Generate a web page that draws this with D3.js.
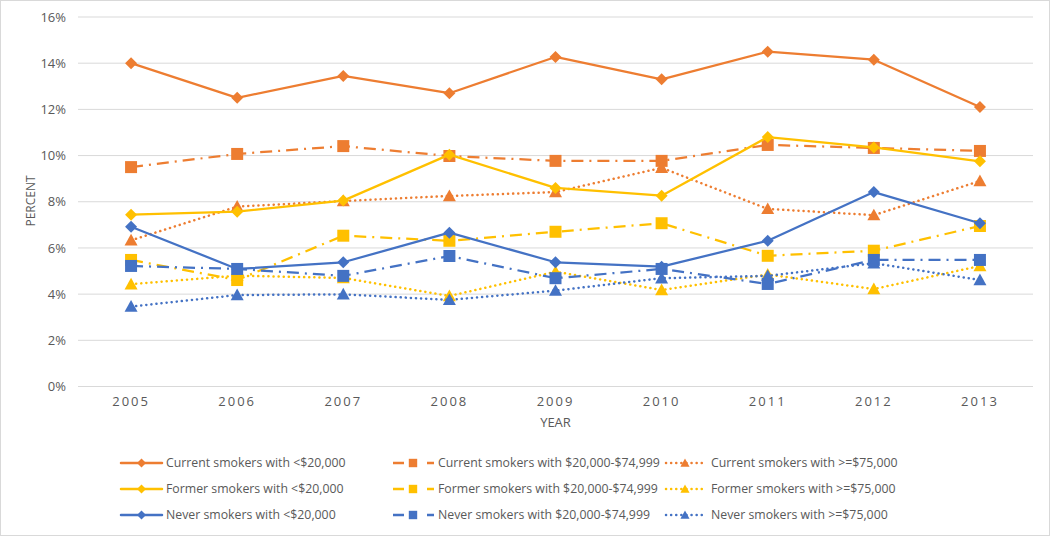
<!DOCTYPE html>
<html><head><meta charset="utf-8">
<script src="https://cdn.jsdelivr.net/npm/d3@7"></script>
<style>
body{margin:0;background:#fff;}
text{font-family:"Open Sans","Liberation Sans",Arial,sans-serif;fill:#595959;}
</style></head>
<body><svg id="c" width="1050" height="536"></svg>
<script>
const years = ["2005","2006","2007","2008","2009","2010","2011","2012","2013"];
const yTicks = [0,2,4,6,8,10,12,14,16];
const currentLow  = [14.0,12.5,13.45,12.7,14.27,13.3,14.5,14.15,12.1];
const currentMid  = [9.5,10.07,10.41,9.98,9.77,9.77,10.46,10.33,10.2];
const currentHigh = [6.33,7.79,8.03,8.25,8.42,9.47,7.69,7.42,8.9];
const formerLow   = [7.44,7.57,8.05,10.04,8.6,8.26,10.8,10.35,9.75];
const formerMid   = [5.48,4.61,6.53,6.31,6.7,7.07,5.66,5.88,6.95];
const formerHigh  = [4.43,4.8,4.7,3.92,4.97,4.18,4.85,4.22,5.22];
const neverLow    = [6.92,5.09,5.38,6.66,5.38,5.19,6.31,8.42,7.07];
const neverMid    = [5.22,5.09,4.79,5.65,4.69,5.09,4.44,5.48,5.48];
const neverHigh   = [3.46,3.96,3.99,3.75,4.15,4.69,4.79,5.34,4.61];
const seriesNames = [
 "Current smokers with <$20,000","Current smokers with $20,000-$74,999","Current smokers with >=$75,000",
 "Former smokers with <$20,000","Former smokers with $20,000-$74,999","Former smokers with >=$75,000",
 "Never smokers with <$20,000","Never smokers with $20,000-$74,999","Never smokers with >=$75,000"];
const seriesValues = [currentLow,currentMid,currentHigh,formerLow,formerMid,formerHigh,neverLow,neverMid,neverHigh];

const colors = ["#ED7D31","#FFC000","#4472C4"];
const styles = [
  {dash:null, cap:"round", marker:"diamond"},
  {dash:"12,6,2,6", cap:"butt", marker:"square"},
  {dash:"0.1,5", cap:"round", marker:"triangle"}
];

const svg = d3.select("#c");
svg.append("rect").attr("x",0.5).attr("y",0.5).attr("width",1049).attr("height",535)
  .attr("fill","#fff").attr("stroke","#D9D9D9");

const m = {l:78, r:1033, t:17, b:386.5};
const x = d3.scaleBand().domain(years).range([m.l,m.r]);
const y = d3.scaleLinear().domain([0,16]).range([m.b,m.t]);
const cx = d => x(d)+x.bandwidth()/2;

// gridlines
svg.append("g").selectAll("line").data(yTicks).join("line")
  .attr("x1",m.l).attr("x2",m.r).attr("y1",d=>y(d)).attr("y2",d=>y(d))
  .attr("stroke","#D9D9D9").attr("stroke-width",1);

// y axis labels
const yAxis = d3.axisLeft(y).tickValues(yTicks).tickFormat(d=>d+"%").tickSize(0).tickPadding(12);
const ga = svg.append("g").attr("transform",`translate(${m.l},0)`).call(yAxis);
ga.select(".domain").remove();
ga.selectAll("text").style("font-size","13px").attr("fill","#595959")
  .style("font-family",'"Open Sans","Liberation Sans",sans-serif');

// x axis labels
const xAxis = d3.axisBottom(x).tickSize(0).tickPadding(10);
const gx = svg.append("g").attr("transform",`translate(0,${m.b})`).call(xAxis);
gx.select(".domain").remove();
gx.selectAll("text").style("font-size","13px").attr("fill","#595959").style("letter-spacing","2px");

svg.append("text").attr("x",(m.l+m.r)/2).attr("y",427).attr("text-anchor","middle")
  .style("font-size","13px").text("YEAR");
svg.append("text").attr("transform","translate(35,201) rotate(-90)").attr("text-anchor","middle")
  .style("font-size","12px").text("PERCENT");

function marker(g, type, px, py, scale, color){
  let p;
  if(type==="diamond"){
    const s=6*scale;
    p = `M${px},${py-s}L${px+s},${py}L${px},${py+s}L${px-s},${py}Z`;
  } else if(type==="square"){
    const s=6*scale;
    p = `M${px-s},${py-s}h${2*s}v${2*s}h${-2*s}Z`;
  } else {
    const s=6.5*scale;
    p = `M${px},${py-s}L${px+s},${py+s*0.8}L${px-s},${py+s*0.8}Z`;
  }
  g.append("path").attr("d",p).attr("fill",color);
}

const line = d3.line().x((d,i)=>cx(years[i])).y(d=>y(d));
seriesValues.forEach((vals,i)=>{
  const color = colors[Math.floor(i/3)];
  const st = styles[i%3];
  const g = svg.append("g");
  g.append("path").datum(vals).attr("d",line).attr("fill","none")
    .attr("stroke",color).attr("stroke-width",st.marker==="triangle"?2.5:2.25)
    .attr("stroke-dasharray",st.dash).attr("stroke-linecap",st.cap).attr("stroke-linejoin","round");
  vals.forEach((v,j)=>marker(g, st.marker, cx(years[j]), y(v), 1, color));
});

// legend
const colX = [121,393,666];
const rowY = [463,489,515];
seriesNames.forEach((name,i)=>{
  const row = Math.floor(i/3), col = i%3;
  const color = colors[row], st = styles[col];
  const x0 = colX[col], yy = rowY[row];
  const g = svg.append("g");
  const w = col===2?38:41;
  g.append("line").attr("x1",x0).attr("x2",x0+w).attr("y1",yy).attr("y2",yy)
    .attr("stroke",color).attr("stroke-width",st.marker==="triangle"?2.5:2.5)
    .attr("stroke-dasharray", col===1?"11,23,7":(col===2?"0.1,5":null))
    .attr("stroke-linecap",st.cap);
  marker(g, st.marker, col===1?x0+20:x0+w/2, yy, col===0?0.75:0.7, color);
  g.append("text").attr("x",x0+w+(col===2?7:4)).attr("y",yy).attr("dy","0.35em")
    .style("font-size","12.3px").text(name);
});
</script></body></html>
